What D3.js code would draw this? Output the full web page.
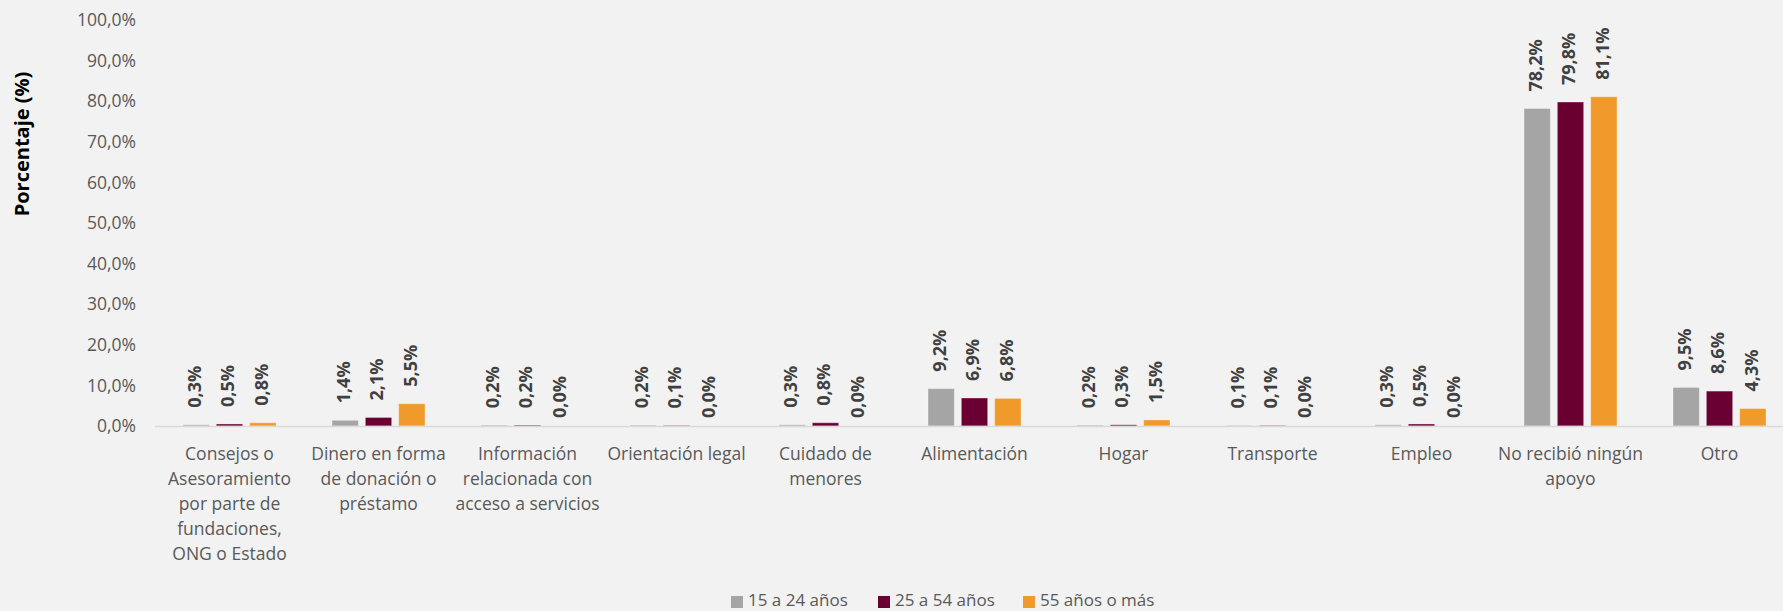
<!DOCTYPE html>
<html>
<head>
<meta charset="utf-8">
<script src="https://cdn.jsdelivr.net/npm/d3@7"></script>
<style>
  html, body { margin: 0; padding: 0; background: #F2F2F2; }
  svg { display: block; }
  text { font-family: "Open Sans", "Noto Sans", sans-serif; }
</style>
</head>
<body>
<svg id="chart" width="1783" height="611"></svg>
<script>
const categories = [
  ["Consejos o", "Asesoramiento", "por parte de", "fundaciones,", "ONG o Estado"],
  ["Dinero en forma", "de donación o", "préstamo"],
  ["Información", "relacionada con", "acceso a servicios"],
  ["Orientación legal"],
  ["Cuidado de", "menores"],
  ["Alimentación"],
  ["Hogar"],
  ["Transporte"],
  ["Empleo"],
  ["No recibió ningún", "apoyo"],
  ["Otro"]
];
const seriesNames = ["15 a 24 años", "25 a 54 años", "55 años o más"];
const seriesColors = ["#A5A5A5", "#6A0032", "#EF9A2B"];
const s1524 = [0.3, 1.4, 0.2, 0.2, 0.3, 9.2, 0.2, 0.1, 0.3, 78.2, 9.5];
const s2554 = [0.5, 2.1, 0.2, 0.1, 0.8, 6.9, 0.3, 0.1, 0.5, 79.8, 8.6];
const s55 = [0.8, 5.5, 0.0, 0.0, 0.0, 6.8, 1.5, 0.0, 0.0, 81.1, 4.3];
const yTicks = [0, 10, 20, 30, 40, 50, 60, 70, 80, 90, 100];
const yTitle = "Porcentaje (%)";

const series = [s1524, s2554, s55];
const svg = d3.select("#chart");
const fmt = v => d3.format(".1f")(v).replace(".", ",") + "%";

const x0 = d3.scaleBand().domain(d3.range(categories.length)).range([155, 1794]).paddingInner(0).paddingOuter(0);
const x1 = d3.scaleBand().domain(d3.range(series.length)).range([28, 121]).paddingInner(0.21).paddingOuter(0);
const y = d3.scaleLinear().domain([0, 100]).range([426, 20]);

// y axis labels
const yAxis = d3.axisLeft(y).tickValues(yTicks).tickFormat(d => d3.format(".1f")(d).replace(".", ",") + "%").tickSize(0).tickPadding(0);
const yg = svg.append("g").attr("transform", "translate(136,0)").call(yAxis);
yg.select(".domain").remove();
yg.selectAll("text").attr("fill", "#595959").style("font-size", "17.5px").style("font-family", "'Open Sans', sans-serif");

// y title
svg.append("text")
  .attr("transform", "translate(24," + 144 + ") rotate(-90)")
  .attr("text-anchor", "middle").attr("dominant-baseline", "middle")
  .attr("fill", "#000").style("font-size", "20px").style("font-weight", "bold")
  .text(yTitle);

// bars
const groups = svg.append("g").selectAll("g").data(categories).join("g")
  .attr("transform", (d, i) => `translate(${x0(i)},0)`);

series.forEach((s, si) => {
  groups.append("rect")
    .attr("x", x1(si))
    .attr("width", x1.bandwidth())
    .attr("y", (d, i) => y(s[i]))
    .attr("height", (d, i) => y(0) - y(s[i]))
    .attr("fill", seriesColors[si])
    .attr("stroke", "#ffffff").attr("stroke-opacity", 0.35).attr("stroke-width", 1);
  groups.append("text")
    .attr("transform", (d, i) => {
      const cx = x1(si) + x1.bandwidth() / 2;
      const cy = y(s[i]) - (s[i] === 0 ? 8 : 17);
      return `translate(${cx},${cy}) rotate(-90)`;
    })
    .attr("text-anchor", "start").attr("dominant-baseline", "middle")
    .attr("fill", "#404040").style("font-size", "18px").style("font-weight", "bold")
    .text((d, i) => fmt(s[i]));
});

// baseline
svg.append("line").attr("x1", 155).attr("x2", 1783).attr("y1", y(0) + 0.5).attr("y2", y(0) + 0.5)
  .attr("stroke", "#D9D9D9").attr("stroke-width", 1.5);

// category labels
const cl = svg.append("g").selectAll("text").data(categories).join("text")
  .attr("text-anchor", "middle").attr("fill", "#595959").style("font-size", "17.5px");
cl.each(function(lines, i) {
  const t = d3.select(this);
  lines.forEach((ln, li) => {
    t.append("tspan").attr("x", x0(i) + x0.bandwidth() / 2).attr("y", 455 + li * 25)
      .attr("dominant-baseline", "middle").text(ln);
  });
});

// legend
const legendX = [731, 878, 1023];
const lg = svg.append("g").selectAll("g").data(seriesNames).join("g")
  .attr("transform", (d, i) => `translate(${legendX[i]},601)`);
lg.append("rect").attr("x", 0).attr("y", -5).attr("width", 12).attr("height", 12).attr("fill", (d, i) => seriesColors[i]);
lg.append("text").attr("x", 17).attr("y", 0).attr("dominant-baseline", "middle")
  .attr("fill", "#595959").style("font-size", "17px").text(d => d);
</script>
</body>
</html>
